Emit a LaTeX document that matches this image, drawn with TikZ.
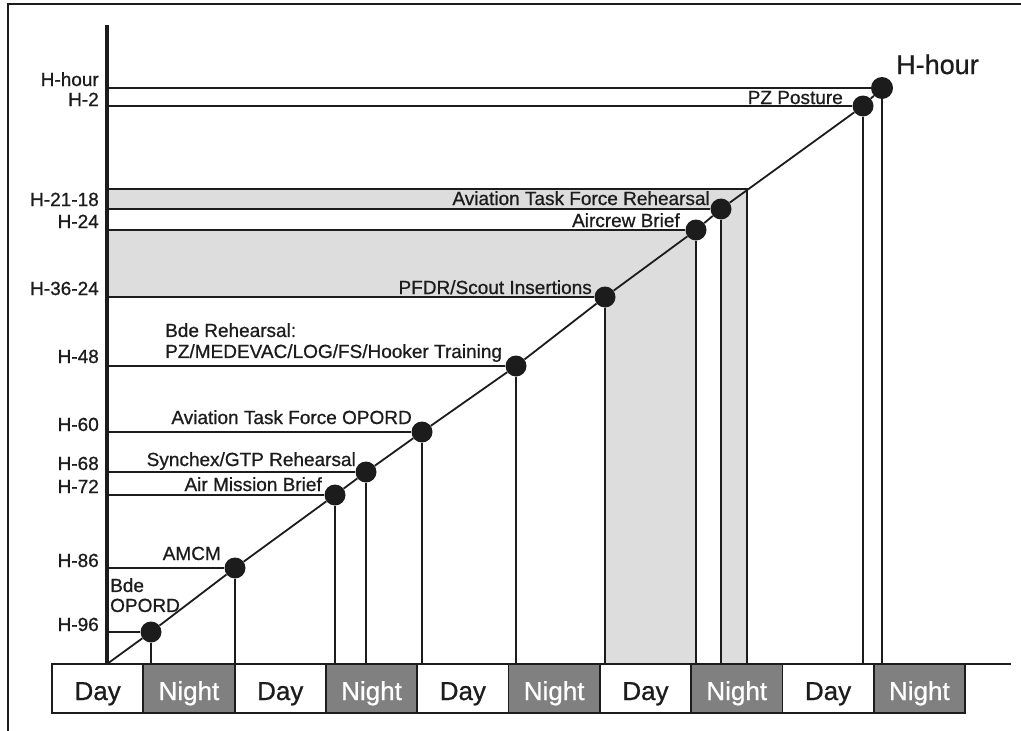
\documentclass[tikz,border=0pt]{standalone}
\usepackage{fontspec}
\setmainfont[FakeBold=0.8,AutoFakeBold=0.8]{Liberation Sans}
\usetikzlibrary{positioning,calc}

\definecolor{inkblack}{RGB}{28,28,28}
\definecolor{nightgray}{RGB}{128,128,128}
\definecolor{bandgray}{RGB}{221,221,221}

\begin{document}
\begin{tikzpicture}[
  x=1pt, y=-1pt,
  dot/.style={circle, fill=inkblack, inner sep=0pt, minimum size=21pt},
  tick/.style={draw=inkblack, line width=1.8pt},
  band/.style={fill=bandgray},
  hlab/.style={anchor=base east, inner sep=0pt, text=inkblack, font=\fontsize{19}{21}\selectfont\bfseries},
  evlab/.style={hlab},
  slot/.style={draw=inkblack, line width=1.8pt, outer sep=0pt, inner sep=0pt,
    minimum width=91.3pt, minimum height=49pt, text height=23pt, text depth=0pt,
    fill=white, text=inkblack, font=\fontsize{26}{30}\selectfont\bfseries},
  nslot/.style={slot, fill=nightgray, text=white}
]

\useasboundingbox (0,0) rectangle (1021,731);

% --- cadre
\draw[inkblack, line width=1.5pt] (8,731) -- (8,4) -- (1021,4);

% --- repères
\coordinate (O) at (107,664);
\coordinate (axTop) at (107,25);
\coordinate (xEnd) at (1011,664);
\coordinate (bandTR) at (747,189);

% --- zones grisées
\fill[band] (107,189) -- (747,189) -- (747,664) -- (721,664) -- (721,209) -- (107,209) -- cycle;
\fill[band] (107,230) -- (696,230) -- (696,664) -- (605,664) -- (605,297) -- (107,297) -- cycle;

% --- jalons sur la diagonale
\node[dot] (d96)   at (151,632) {};
\node[dot] (d86)   at (235,568) {};
\node[dot] (d72)   at (335,495) {};
\node[dot] (d68)   at (366,472) {};
\node[dot] (d60)   at (422,432) {};
\node[dot] (d48)   at (516,366) {};
\node[dot] (d3624) at (605,297) {};
\node[dot] (d24)   at (696,230) {};
\node[dot] (d2118) at (721,209) {};
\node[dot] (d2)    at (863,106) {};
\node[dot, minimum size=22pt] (dHour) at (882,88) {};

% --- diagonale
\draw[tick] (O) -- (d96) -- (d86) -- (d72) -- (d68) -- (d60) -- (d48)
            -- (d3624) -- (d24) -- (d2118) -- (d2) -- (dHour);

% --- lignes horizontales (axe -> jalon)
\draw[tick] (O |- d96) -- (d96);
\draw[tick] (O |- d86) -- (d86);
\draw[tick] (O |- d72) -- (d72);
\draw[tick] (O |- d68) -- (d68);
\draw[tick] (O |- d60) -- (d60);
\draw[tick] (O |- d48) -- (d48);
\draw[tick] (O |- d3624) -- (d3624);
\draw[tick] (O |- d24) -- (d24);
\draw[tick] (O |- d2118) -- (d2118);
\draw[tick] (O |- d2) -- (d2);
\draw[tick] (O |- dHour) -- (dHour);
\draw[tick] (O |- bandTR) -- (bandTR) -- (bandTR |- O);

% --- lignes verticales (jalon -> base)
\draw[tick] (d96) -- (d96 |- O);
\draw[tick] (d86) -- (d86 |- O);
\draw[tick] (d72) -- (d72 |- O);
\draw[tick] (d68) -- (d68 |- O);
\draw[tick] (d60) -- (d60 |- O);
\draw[tick] (d48) -- (d48 |- O);
\draw[tick] (d3624) -- (d3624 |- O);
\draw[tick] (d24) -- (d24 |- O);
\draw[tick] (d2118) -- (d2118 |- O);
\draw[tick] (d2) -- (d2 |- O);
\draw[tick] (dHour) -- (dHour |- O);

% --- axes
\draw[inkblack, line width=3.6pt] (O) -- (axTop);
\draw[inkblack, line width=2.4pt] (O) -- (xEnd);

% --- jour / nuit
\node[slot]  (b1)  at (97.65,688.5) {Day};
\node[nslot] (b2)  [right=0pt of b1] {Night};
\node[slot]  (b3)  [right=0pt of b2] {Day};
\node[nslot] (b4)  [right=0pt of b3] {Night};
\node[slot]  (b5)  [right=0pt of b4] {Day};
\node[nslot] (b6)  [right=0pt of b5] {Night};
\node[slot]  (b7)  [right=0pt of b6] {Day};
\node[nslot] (b8)  [right=0pt of b7] {Night};
\node[slot]  (b9)  [right=0pt of b8] {Day};
\node[nslot] (b10) [right=0pt of b9] {Night};

% --- étiquettes de l'axe
\node[hlab] (lHour) at (99,86)  {H-hour};
\node[hlab] (l2)    at (99,106) {H-2};
\node[hlab] (l2118) at (99,206) {H-21-18};
\node[hlab] (l24)   at (99,228) {H-24};
\node[hlab] (l3624) at (99,295) {H-36-24};
\node[hlab] (l48)   at (99,363) {H-48};
\node[hlab] (l60)   at (99,431) {H-60};
\node[hlab] (l68)   at (99,470) {H-68};
\node[hlab] (l72)   at (99,493) {H-72};
\node[hlab] (l86)   at (99,567) {H-86};
\node[hlab] (l96)   at (99,631) {H-96};

% --- étiquettes des jalons
\node[evlab] (ePZ)   at (843,104) {PZ Posture};
\node[evlab] (eTFR)  at (710,205) {Aviation Task Force Rehearsal};
\node[evlab] (eACB)  at (680,227) {Aircrew Brief};
\node[evlab] (ePFDR) at (592,294) {PFDR/Scout Insertions};
\node[evlab, anchor=north west, align=left] (eBdeR) at (165,323)
  {Bde Rehearsal:\\PZ/MEDEVAC/LOG/FS/Hooker Training};
\node[evlab] (eTFO)  at (412,424) {Aviation Task Force OPORD};
\node[evlab] (eSyn)  at (356,466) {Synchex/GTP Rehearsal};
\node[evlab] (eAMB)  at (322,491) {Air Mission Brief};
\node[evlab] (eAMCM) at (221,560) {AMCM};
\node[evlab, anchor=north west, align=left, font=\fontsize{19}{20}\selectfont\bfseries] (eBdeO) at (110,578)
  {Bde\\OPORD};

\node[anchor=base west, inner sep=0pt, text=inkblack, font=\fontsize{27}{30}\selectfont\bfseries] (hHour) at (896,74) {H-hour};

\end{tikzpicture}
\end{document}
